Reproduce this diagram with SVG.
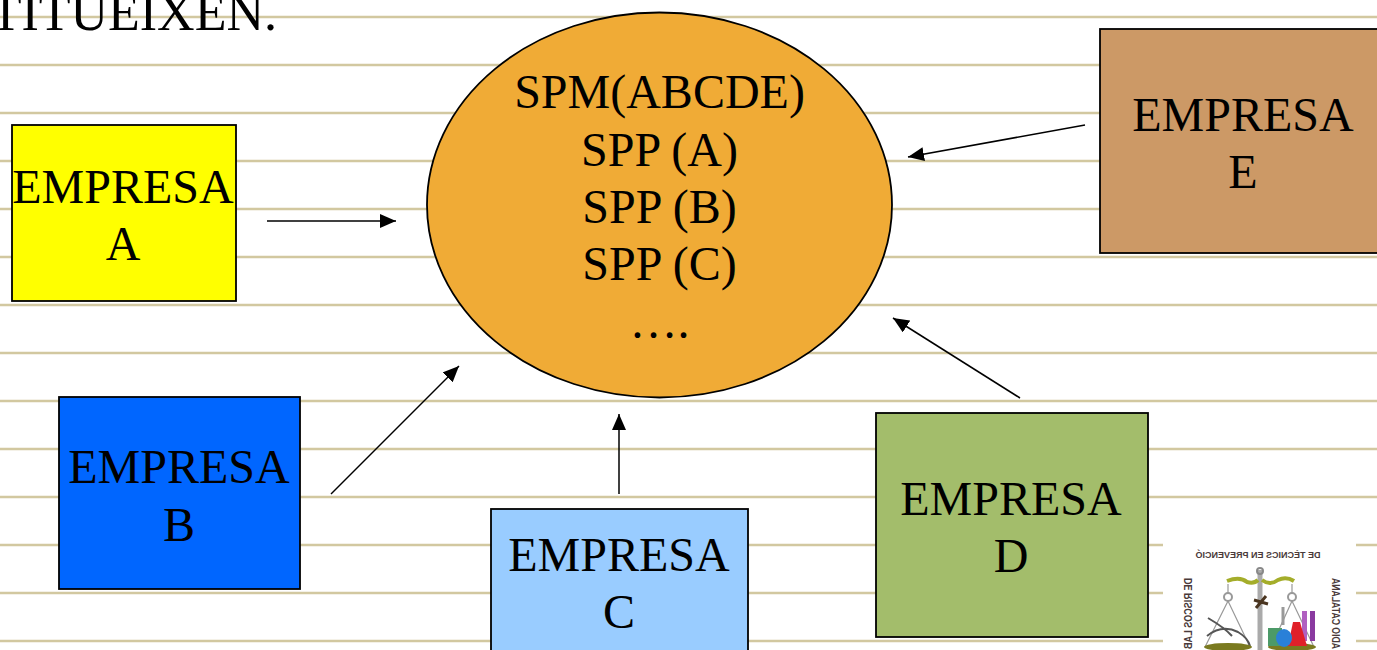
<svg xmlns="http://www.w3.org/2000/svg" width="1377" height="650" viewBox="0 0 1377 650">
<style>
text{font-family:"Liberation Serif","Times New Roman",serif;fill:#000;text-anchor:middle}
.t{font-size:48px}
.box{stroke:#000;stroke-width:1.800}
.rule{stroke:#d2c8a0;stroke-width:2.500}
.c{stroke:#000;stroke-width:1.500;fill:none;marker-end:url(#a)}
.l{font-family:"Liberation Sans",Arial,sans-serif;font-weight:700;fill:#4a3a3a;font-size:9px}
.v{font-size:10.500px;text-anchor:start}
</style>
<defs><marker id="a" markerUnits="userSpaceOnUse" markerWidth="18" markerHeight="14" refX="16" refY="7" orient="auto"><path d="M0 0L16 7L0 14z" fill="#000"/></marker></defs>
<rect width="1377" height="650" fill="#fff"/>
<g id="rules">
<path class="rule" d="M0 17H1377M0 65H1377M0 113H1377M0 161H1377M0 209H1377M0 257H1377M0 305H1377M0 353H1377M0 401H1377M0 449H1377M0 497H1377M0 545H1163M1356 545H1377M0 593H1163M1356 593H1377M0 641H1163M1356 641H1377"/>
</g>
<text x="277" y="30" style="font-size:52px;text-anchor:end">TITUEIXEN.</text>
<g id="connectors">
<path class="c" d="M267 221H396"/>
<path class="c" d="M331 494L459 366"/>
<path class="c" d="M619 494V414"/>
<path class="c" d="M1020 398L893 318"/>
<path class="c" d="M1085 125L908 157"/>
</g>
<g id="hub">
<ellipse cx="659.500" cy="205" rx="232.500" ry="192.500" fill="#f0ab36" stroke="#000" stroke-width="1.800"/>
<text class="t" x="659.500" y="108">SPM(ABCDE)</text>
<text class="t" x="659.500" y="166">SPP (A)</text>
<text class="t" x="659.500" y="223">SPP (B)</text>
<text class="t" x="659.500" y="280">SPP (C)</text>
<text class="t" x="659.500" y="338">….</text>
</g>
<g id="empresa-a"><rect class="box" x="12" y="125" width="224" height="176" fill="#ff0"/><text class="t" x="123" y="203">EMPRESA</text><text class="t" x="123" y="260">A</text></g>
<g id="empresa-b"><rect class="box" x="59" y="397" width="241" height="192" fill="#0066ff"/><text class="t" x="179" y="483">EMPRESA</text><text class="t" x="179" y="541">B</text></g>
<g id="empresa-c"><rect class="box" x="491" y="509" width="257" height="160" fill="#99ccff"/><text class="t" x="619" y="571">EMPRESA</text><text class="t" x="619" y="628">C</text></g>
<g id="empresa-d"><rect class="box" x="876" y="413" width="272" height="224" fill="#a3bd6b"/><text class="t" x="1011" y="515">EMPRESA</text><text class="t" x="1011" y="572">D</text></g>
<g id="empresa-e"><rect class="box" x="1100" y="29" width="288" height="224" fill="#cc9966"/><text class="t" x="1243" y="131">EMPRESA</text><text class="t" x="1243" y="188">E</text></g>
<g id="logo">
<text class="l" transform="translate(1258 558) scale(-1 1)">DE TÈCNICS EN PREVENCIÓ</text>
<text class="l v" textLength="71" lengthAdjust="spacingAndGlyphs" transform="translate(1192 578) rotate(90) scale(1 -1)">DE RISCOS LAB</text>
<text class="l v" textLength="71" lengthAdjust="spacingAndGlyphs" transform="translate(1332 649) rotate(-90) scale(1 -1)">ADIO CATALANA</text>
<path d="M1260 570V650" stroke="#aaa" stroke-width="5"/>
<circle cx="1260" cy="571" r="3" fill="none" stroke="#888" stroke-width="2"/>
<path d="M1227 581Q1240 576 1247 582Q1254 584 1258 580M1262 580Q1270 586 1278 580Q1286 576 1294 581" stroke="#a4ad2a" stroke-width="4" fill="none"/>
<circle cx="1228" cy="597" r="4" fill="none" stroke="#999" stroke-width="2"/>
<circle cx="1292" cy="597" r="4" fill="none" stroke="#999" stroke-width="2"/>
<path d="M1228 601L1205 647M1228 601L1250 647M1292 601L1271 647M1292 601L1314 647M1228 584V593M1292 584V593" stroke="#999" stroke-width="1.200" fill="none"/>
<path d="M1207 636Q1222 624 1238 632Q1248 638 1250 646M1208 618Q1225 628 1232 636" stroke="#555" stroke-width="2" fill="none"/>
<path d="M1254 600L1268 604M1266 596L1256 608" stroke="#4a3520" stroke-width="3"/>
<ellipse cx="1228" cy="647" rx="24" ry="4" fill="#7a7a20"/>
<ellipse cx="1292" cy="647" rx="24" ry="4" fill="#7a7a20"/>
<rect x="1268" y="628" width="14" height="18" fill="#4c9a68"/>
<path d="M1283 607V625" stroke="#999" stroke-width="3"/>
<rect x="1310" y="611" width="5" height="30" fill="#8a3aa0"/>
<rect x="1302" y="611" width="5" height="30" fill="#b060c0"/>
<path d="M1293 622H1300L1307 646H1288z" fill="#e0202a"/>
<ellipse cx="1284" cy="638" rx="8" ry="9" fill="#2a80d8"/>
</g>
</svg>
